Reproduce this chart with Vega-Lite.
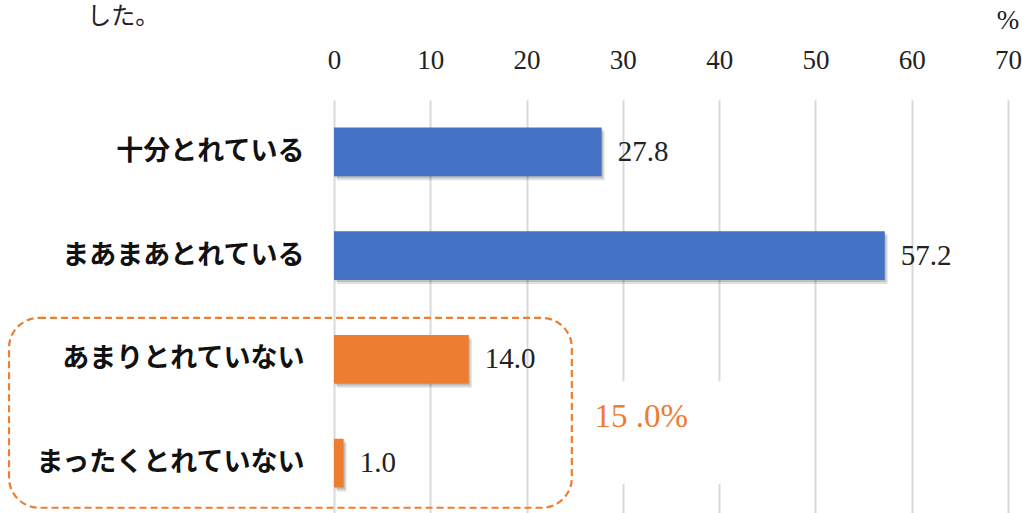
{
  "$schema": "https://vega.github.io/schema/vega-lite/v6.json",
  "width": 674,
  "height": 415,
  "autosize": {"type": "none"},
  "padding": {"left": 334, "top": 100, "right": 14, "bottom": 0},
  "background": "white",
  "config": {"view": {"stroke": null}},
  "datasets": {
    "answers": [
      {"回答": "十分とれている", "割合": 27.8, "区分": "とれている"},
      {"回答": "まあまあとれている", "割合": 57.2, "区分": "とれている"},
      {"回答": "あまりとれていない", "割合": 14.0, "区分": "とれていない"},
      {"回答": "まったくとれていない", "割合": 1.0, "区分": "とれていない"}
    ]
  },
  "layer": [
    {
      "data": {"name": "answers"},
      "mark": {"type": "bar", "color": "#000000", "opacity": 0.12, "xOffset": 3, "yOffset": 4},
      "encoding": {
        "y": {"field": "回答", "type": "nominal", "sort": null,
              "scale": {"paddingInner": 0.53, "paddingOuter": 0.265},
              "axis": {"orient": "left", "title": null, "ticks": false, "domain": false,
                       "labelFont": "Noto Sans CJK JP", "labelFontWeight": "bold",
                       "labelFontSize": 27, "labelColor": "#111111", "labelPadding": 30, "labelLimit": 400}},
        "x": {"field": "割合", "type": "quantitative",
              "scale": {"domain": [0, 70], "nice": false},
              "axis": {"orient": "top", "title": null, "values": [0, 10, 20, 30, 40, 50, 60, 70],
                       "ticks": false, "domain": false, "grid": true, "gridColor": "#d9d9d9", "gridWidth": 2,
                       "labelFont": "Liberation Serif", "labelFontSize": 27, "labelColor": "#222222",
                       "labelPadding": 26, "labelFlush": false}}
      }
    },
    {
      "data": {"name": "answers"},
      "mark": {"type": "bar", "color": "#000000", "opacity": 0.15, "xOffset": 1.5, "yOffset": 2},
      "encoding": {
        "y": {"field": "回答", "type": "nominal", "sort": null,
              "scale": {"paddingInner": 0.53, "paddingOuter": 0.265}, "axis": null},
        "x": {"field": "割合", "type": "quantitative", "scale": {"domain": [0, 70], "nice": false}}
      }
    },
    {
      "data": {"name": "answers"},
      "mark": {"type": "bar"},
      "encoding": {
        "y": {"field": "回答", "type": "nominal", "sort": null,
              "scale": {"paddingInner": 0.53, "paddingOuter": 0.265}, "axis": null},
        "x": {"field": "割合", "type": "quantitative", "scale": {"domain": [0, 70], "nice": false}},
        "color": {"field": "区分", "type": "nominal",
                  "scale": {"domain": ["とれている", "とれていない"], "range": ["#4472C4", "#ED7D31"]},
                  "legend": null}
      }
    },
    {
      "data": {"name": "answers"},
      "mark": {"type": "text", "align": "left", "baseline": "middle", "dx": 16,
               "font": "Liberation Serif", "fontSize": 29, "color": "#222222"},
      "encoding": {
        "y": {"field": "回答", "type": "nominal", "sort": null,
              "scale": {"paddingInner": 0.53, "paddingOuter": 0.265}, "axis": null},
        "x": {"field": "割合", "type": "quantitative", "scale": {"domain": [0, 70], "nice": false}},
        "text": {"field": "割合", "type": "quantitative", "format": ".1f"}
      }
    },
    {
      "data": {"values": [{}]},
      "mark": {"type": "rect", "fill": "white"},
      "encoding": {
        "x": {"datum": 26, "type": "quantitative", "scale": {"domain": [0, 70], "nice": false}},
        "x2": {"datum": 41.5},
        "y": {"datum": 2.71, "type": "quantitative", "scale": {"domain": [0, 4], "reverse": true, "nice": false, "zero": false}, "axis": null},
        "y2": {"datum": 3.70}
      }
    },
    {
      "data": {"values": [{}]},
      "mark": {"type": "rect", "fillOpacity": 0, "stroke": "#ED7D31", "strokeWidth": 2.2,
               "strokeDash": [7, 4], "cornerRadius": 30},
      "encoding": {
        "x": {"datum": -33.75, "type": "quantitative", "scale": {"domain": [0, 70], "nice": false}},
        "x2": {"datum": 24.7},
        "y": {"datum": 2.1, "type": "quantitative", "scale": {"domain": [0, 4], "reverse": true, "nice": false, "zero": false}, "axis": null},
        "y2": {"datum": 3.93}
      }
    },
    {
      "data": {"values": [{"注記": "15 .0%"}]},
      "mark": {"type": "text", "align": "center", "baseline": "middle",
               "font": "Liberation Serif", "fontSize": 33, "color": "#ED7D31"},
      "encoding": {
        "x": {"datum": 31.9, "type": "quantitative", "scale": {"domain": [0, 70], "nice": false}},
        "y": {"datum": 3.055, "type": "quantitative", "scale": {"domain": [0, 4], "reverse": true, "nice": false, "zero": false}, "axis": null},
        "text": {"field": "注記"}
      }
    },
    {
      "data": {"values": [{"注記": "%"}]},
      "mark": {"type": "text", "align": "center", "baseline": "middle",
               "font": "Liberation Serif", "fontSize": 27, "color": "#222222"},
      "encoding": {
        "x": {"datum": 70, "type": "quantitative", "scale": {"domain": [0, 70], "nice": false}},
        "y": {"datum": -0.76, "type": "quantitative", "scale": {"domain": [0, 4], "reverse": true, "nice": false, "zero": false}, "axis": null},
        "text": {"field": "注記"}
      }
    },
    {
      "data": {"values": [{"注記": "した。"}]},
      "mark": {"type": "text", "align": "center", "baseline": "middle",
               "font": "Noto Sans CJK JP", "fontSize": 24, "color": "#222222"},
      "encoding": {
        "x": {"datum": -21.9, "type": "quantitative", "scale": {"domain": [0, 70], "nice": false}},
        "y": {"datum": -0.8, "type": "quantitative", "scale": {"domain": [0, 4], "reverse": true, "nice": false, "zero": false}, "axis": null},
        "text": {"field": "注記"}
      }
    }
  ],
  "resolve": {"scale": {"y": "independent"}}
}
